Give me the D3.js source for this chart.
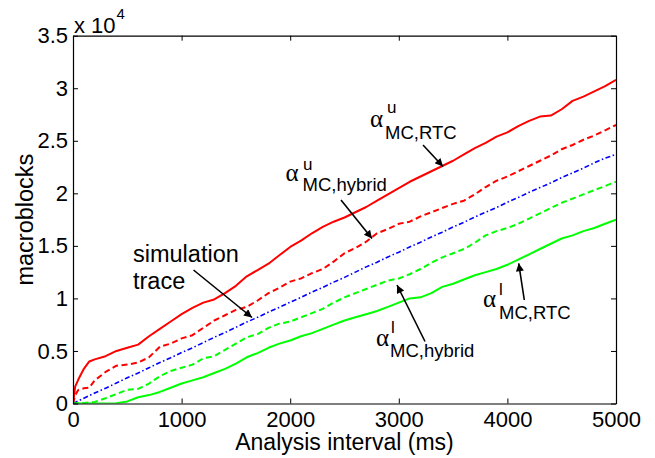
<!DOCTYPE html>
<html><head><meta charset="utf-8">
<script src="https://cdn.jsdelivr.net/npm/d3@7"></script>
<style>
html,body{margin:0;padding:0;background:#fff;}
svg{display:block;font-family:"Liberation Sans",Arial,Helvetica,sans-serif;}
</style></head>
<body>
<svg id="chart" width="655" height="458"></svg>
<script>
// Analysis interval (ms)
const intervalMs = [0,20,50,100,150,200,300,400,500,600,700,800,900,1000,1100,1200,1300,1400,1500,1600,1700,1800,1900,2000,2100,2200,2300,2400,2500,2600,2700,2800,2900,3000,3100,3200,3300,3400,3500,3600,3700,3800,3900,4000,4100,4200,4300,4400,4500,4600,4700,4800,4900,5000];
// macroblocks
const upperRTC = [0,1600,2300,3300,4000,4200,4500,5000,5300,5600,6400,7100,7800,8500,9100,9600,9900,10500,11200,12100,12700,13300,14100,14900,15500,16200,16800,17300,17700,18200,18700,19300,19900,20500,21100,21600,22100,22600,23100,23700,24300,24800,25400,25800,26400,26900,27300,27400,28000,28800,29200,29700,30200,30800];
const upperHybrid = [0,800,1300,1450,1500,2200,3000,3600,3700,3900,4400,5400,5700,6200,6500,7200,7900,8400,8900,9200,9800,10500,11000,11600,11900,12400,12800,13500,14300,14800,15400,16200,16600,17100,17300,17800,18200,18600,19000,19300,19900,20600,21200,21600,22100,22600,23100,23600,24200,24600,25100,25500,26000,26500];
const simTrace = [0,100,250,500,750,1000,1450,1950,2450,2900,3400,3900,4350,4850,5300,5800,6300,6750,7250,7750,8200,8700,9150,9650,10100,10600,11050,11550,12000,12500,13000,13450,13950,14400,14900,15350,15850,16300,16800,17250,17750,18200,18650,19150,19600,20100,20550,21000,21500,21950,22400,22900,23350,23700];
const lowerHybrid = [0,0,30,50,100,150,500,900,1300,1400,1900,2600,3100,3400,3700,4300,4500,5100,5700,6300,6600,7200,7600,7800,8200,8600,9000,9600,10100,10500,10900,11300,11700,11900,12300,12800,13400,13900,14300,14700,15300,16000,16400,16700,17100,17600,18100,18600,19100,19500,19900,20300,20700,21100];
const lowerRTC = [0,0,0,0,0,0,0,30,200,600,800,1100,1500,1900,2200,2500,2900,3300,3800,4400,4800,5300,5700,6000,6400,6700,7100,7500,7900,8200,8500,8800,9200,9600,10000,10100,10500,11100,11400,11800,12200,12500,12800,13200,13700,14200,14700,15200,15700,16000,16400,16700,17100,17500];

const xTicks = [0,1000,2000,3000,4000,5000];
const yTicks = [0,5000,10000,15000,20000,25000,30000,35000];
const xLabel = "Analysis interval (ms)";
const yLabel = "macroblocks";

const series = [
  {name:"upperRTC", values:upperRTC, color:"#ff0000", dash:null, width:2},
  {name:"upperHybrid", values:upperHybrid, color:"#ff0000", dash:"6,3.5", width:2},
  {name:"simTrace", values:simTrace, color:"#0000ff", dash:"5,2.5,1.5,2.5", width:1.6},
  {name:"lowerHybrid", values:lowerHybrid, color:"#00ff00", dash:"6,3.5", width:2},
  {name:"lowerRTC", values:lowerRTC, color:"#00ff00", dash:null, width:2}
];

const svg = d3.select("#chart");
const L = 73, R = 616, T = 35.7, B = 403.5;
const x = d3.scaleLinear().domain([0,5000]).range([L,R]);
const y = d3.scaleLinear().domain([0,35000]).range([B,T]);

const defs = svg.append("defs");
defs.append("clipPath").attr("id","clip").append("rect")
  .attr("x",L).attr("y",T).attr("width",R-L).attr("height",B-T);
defs.append("marker").attr("id","arrow").attr("viewBox","0 0 10 10")
  .attr("refX",10).attr("refY",5).attr("markerWidth",11).attr("markerHeight",8)
  .attr("markerUnits","userSpaceOnUse").attr("orient","auto")
  .append("path").attr("d","M0,0 L10,5 L0,10 Z").attr("fill","#000");

const line = d3.line().x((d,i)=>x(intervalMs[i])).y(d=>y(d));
const g = svg.append("g").attr("clip-path","url(#clip)");
series.forEach(s=>{
  g.append("path").datum(s.values)
    .attr("d",line).attr("fill","none")
    .attr("stroke",s.color).attr("stroke-width",s.width)
    .attr("stroke-dasharray",s.dash)
    .attr("stroke-linejoin","round");
});

const fmtY = d=> d3.format("~g")(d/10000);
const axFont = 22;
const ax = [
  svg.append("g").attr("transform",`translate(0,${B})`)
    .call(d3.axisBottom(x).tickValues(xTicks).tickSizeInner(-5).tickSizeOuter(0).tickPadding(8).tickFormat(d3.format("d"))),
  svg.append("g").attr("transform",`translate(${L},0)`)
    .call(d3.axisLeft(y).tickValues(yTicks).tickSizeInner(-5).tickSizeOuter(0).tickPadding(5).tickFormat(fmtY)),
  svg.append("g").attr("transform",`translate(0,${T})`)
    .call(d3.axisTop(x).tickValues(xTicks).tickSizeInner(-5).tickSizeOuter(0).tickFormat("")),
  svg.append("g").attr("transform",`translate(${R},0)`)
    .call(d3.axisRight(y).tickValues(yTicks).tickSizeInner(-5).tickSizeOuter(0).tickFormat(""))
];
ax.forEach(a=>{
  a.selectAll("text").attr("font-size",axFont).attr("font-family","Liberation Sans, Arial, sans-serif").attr("fill","#000");
  a.selectAll("line").attr("stroke","#000");
  a.select(".domain").attr("stroke","#000").attr("stroke-width",1.2);
});

// exponent
const ex = svg.append("text").attr("x",74).attr("y",33).attr("font-size",22).attr("fill","#000");
ex.append("tspan").text("x 10");
ex.append("tspan").attr("font-size",15).attr("dy",-14).attr("dx",1).text("4");

// axis labels
svg.append("text").attr("x",(L+R)/2).attr("y",449.5).attr("text-anchor","middle")
  .attr("font-size",23).attr("fill","#000").text(xLabel);
svg.append("text").attr("transform",`translate(33,${(T+B)/2}) rotate(-90)`)
  .attr("text-anchor","middle").attr("font-size",23.5).attr("fill","#000").text(yLabel);

// annotations
function alphaLabel(ax0, ay, sup, supX, supY, sub, subX, subY){
  svg.append("text").attr("x",ax0).attr("y",ay).attr("font-size",25)
    .attr("font-family","Liberation Serif, Times New Roman, serif").attr("fill","#000").text("\u03B1");
  svg.append("text").attr("x",supX).attr("y",supY).attr("font-size",17).attr("fill","#000").text(sup);
  svg.append("text").attr("x",subX).attr("y",subY).attr("font-size",18.5).attr("fill","#000").text(sub);
}
function arrow(x1,y1,x2,y2){
  svg.append("line").attr("x1",x1).attr("y1",y1).attr("x2",x2).attr("y2",y2)
    .attr("stroke","#000").attr("stroke-width",1.6).attr("marker-end","url(#arrow)");
}
alphaLabel(370, 127, "u", 387, 113, "MC,RTC", 385, 139);
arrow(423, 145, 443, 166.5);
alphaLabel(285.5, 181, "u", 303, 170, "MC,hybrid", 302.5, 191);
arrow(341, 200, 372, 238.5);
alphaLabel(376, 346, "l", 391, 333, "MC,hybrid", 390, 357);
arrow(425, 341.5, 397, 285);
alphaLabel(483, 307, "l", 499, 295, "MC,RTC", 499, 318.5);
arrow(524.3, 300, 518.7, 263.3);

svg.append("text").attr("x",133).attr("y",262).attr("font-size",23.5).attr("fill","#000").text("simulation");
svg.append("text").attr("x",133).attr("y",288.5).attr("font-size",23.5).attr("fill","#000").text("trace");
arrow(193.5, 270, 252, 317.5);
</script>
</body></html>
